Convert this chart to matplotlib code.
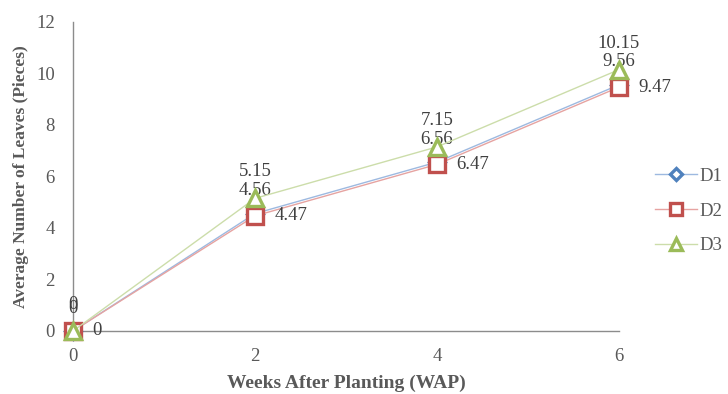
import matplotlib
matplotlib.use("Agg")
import matplotlib.pyplot as plt

plt.rcParams['font.family'] = ['Liberation Serif', 'DejaVu Serif']

weeks = [0, 2, 4, 6]
d1 = [0, 4.56, 6.56, 9.56]
d2 = [0, 4.47, 6.47, 9.47]
d3 = [0, 5.15, 7.15, 10.15]
x_ticks = [0, 2, 4, 6]
y_ticks = [0, 2, 4, 6, 8, 10, 12]

text_grey = '#595959'

fig = plt.figure(figsize=(7.28, 3.94), dpi=100)
ax = fig.add_axes([0.1003, 0.1599, 0.75, 0.7843])

series = [
    ("D1", d1, 'D', '#4F81BD', '#9DB9E0', 8, (0, 16.5), 'center'),
    ("D2", d2, 's', '#C0504D', '#E6A3A1', 11, (14, 0), 'left'),
    ("D3", d3, '^', '#9BBB59', '#CCDDAA', 11, (0, 19), 'center'),
]

for name, vals, mk, mcol, lcol, ms, off, ha in series:
    ax.plot(weeks, vals, color=lcol, lw=1.0, marker=mk, markersize=ms,
            markerfacecolor='white', markeredgecolor=mcol, markeredgewidth=2.4,
            label=name, clip_on=False, zorder=3)
    for xv, yv in zip(weeks, vals):
        ax.annotate(f"{yv:g}", (xv, yv), xytext=off, textcoords='offset points',
                    ha=ha, va='center', fontsize=13.5, color='#404040')

ax.set_xlim(0, 6)
ax.set_ylim(0, 12)
ax.set_xticks(x_ticks)
ax.set_yticks(y_ticks)
ax.tick_params(length=0, labelsize=13.5, labelcolor=text_grey)
ax.tick_params(axis='y', pad=13)
ax.tick_params(axis='x', pad=12)

for side in ['top', 'right']:
    ax.spines[side].set_visible(False)
for side in ['left', 'bottom']:
    ax.spines[side].set_color('#8C8C8C')
    ax.spines[side].set_linewidth(1.0)

ax.set_xlabel('Weeks After Planting (WAP)', fontsize=14, fontweight='bold',
              color=text_grey, labelpad=7)
ax.set_ylabel('Average Number of Leaves (Pieces)', fontsize=12.5,
              fontweight='bold', color=text_grey, labelpad=5)

leg = fig.legend(loc='center left', bbox_to_anchor=(0.877, 0.4645), frameon=False,
                 fontsize=13.5, labelspacing=0.95, handlelength=2.2,
                 handletextpad=0.15, markerscale=0.75)
for t in leg.get_texts():
    t.set_color(text_grey)

fig.savefig('out.png', dpi=100)
